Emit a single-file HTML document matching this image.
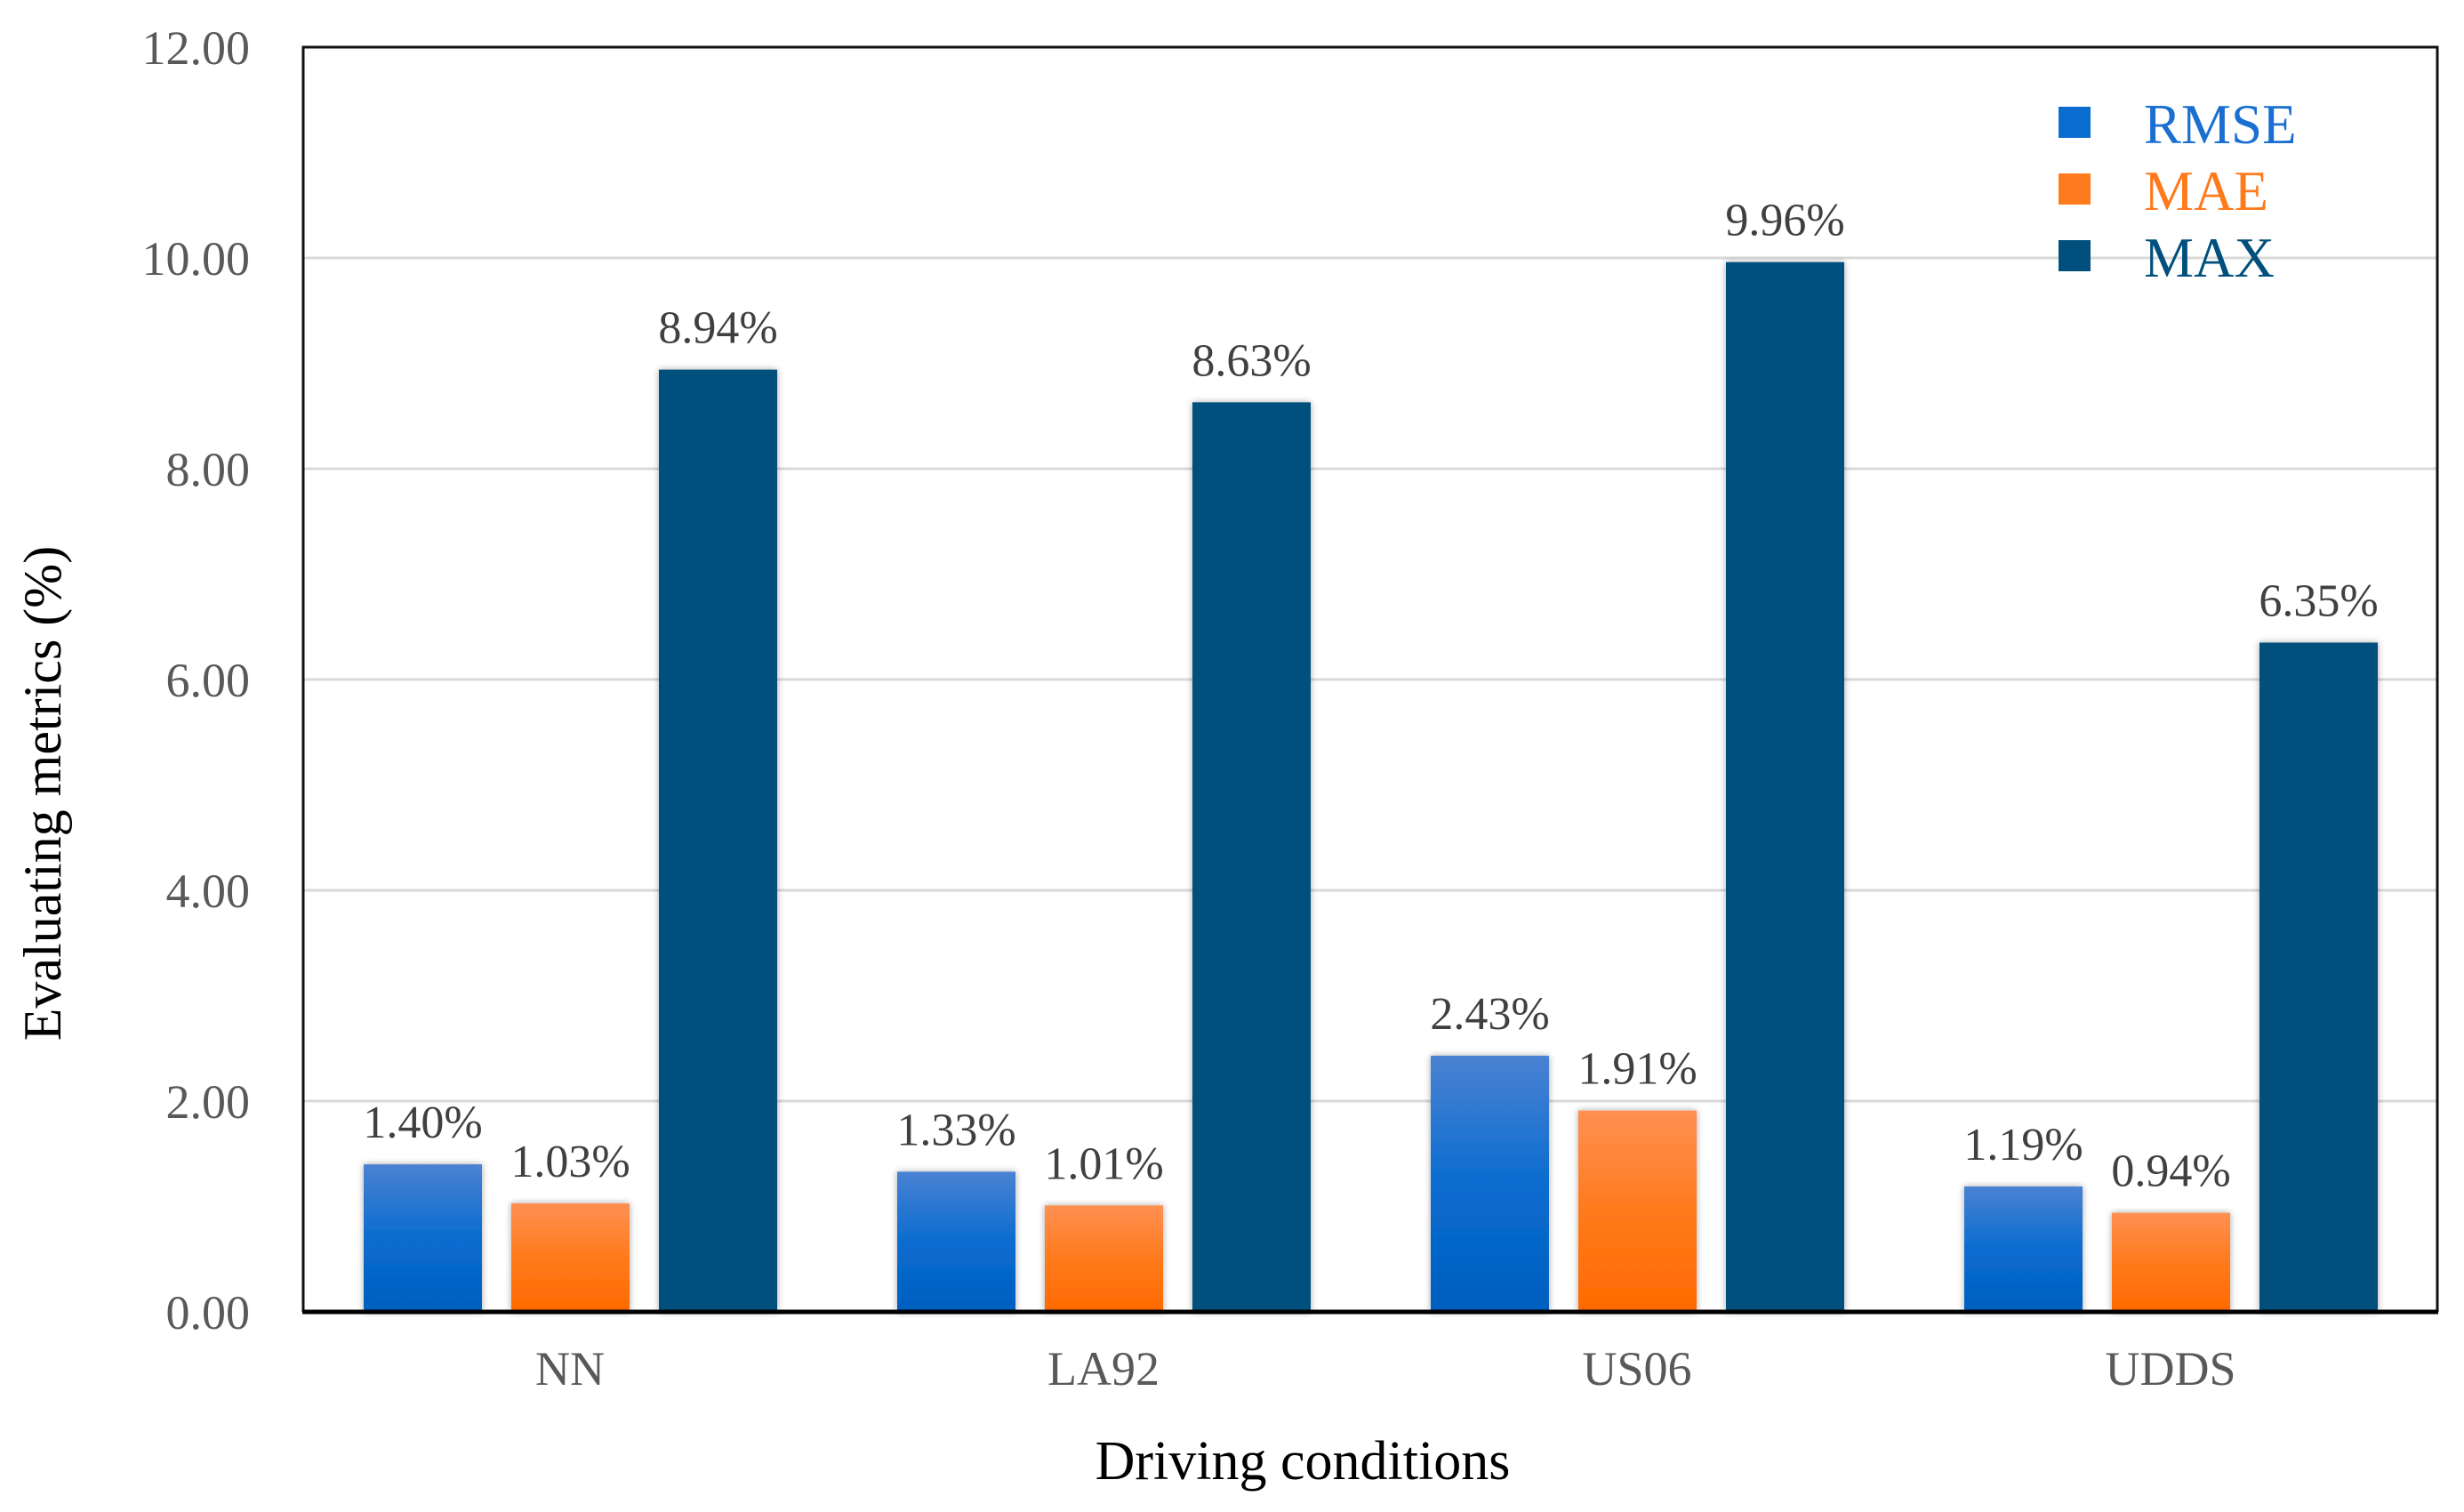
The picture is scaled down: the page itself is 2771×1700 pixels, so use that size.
<!DOCTYPE html>
<html><head><meta charset="utf-8"><style>
html,body{margin:0;padding:0;background:#fff;}
svg{display:block;font-family:"Liberation Serif","Times New Roman",serif;}
</style></head><body>
<svg id="chart" width="2771" height="1700" viewBox="0 0 2771 1700" xmlns="http://www.w3.org/2000/svg">
<defs>
<linearGradient id="gRmse" x1="0" y1="0" x2="0" y2="1"><stop offset="0" stop-color="#4a82d2"/><stop offset="0.5" stop-color="#0a6ccf"/><stop offset="1" stop-color="#005fbf"/></linearGradient>
<linearGradient id="gMae" x1="0" y1="0" x2="0" y2="1"><stop offset="0" stop-color="#ff9052"/><stop offset="0.5" stop-color="#ff7a1c"/><stop offset="1" stop-color="#ff6a00"/></linearGradient>
<filter id="sh" x="-20%" y="-5%" width="140%" height="110%"><feGaussianBlur in="SourceAlpha" stdDeviation="4"/><feOffset dx="0" dy="0"/><feComponentTransfer><feFuncA type="linear" slope="0.35"/></feComponentTransfer><feMerge><feMergeNode/><feMergeNode in="SourceGraphic"/></feMerge></filter>
</defs>
<g id="grid"></g>
<g id="bars"></g>
<g id="labels"></g>
<g id="axes"></g>
<text x="1465" y="1663" font-size="62" text-anchor="middle" fill="#000">Driving conditions</text>
<text transform="translate(68,892) rotate(-90)" font-size="60" text-anchor="middle" fill="#000">Evaluating metrics (%)</text>
<g>
<rect x="2315" y="120" width="36" height="35" fill="#0a6ccf"/>
<text x="2411" y="161" font-size="63" fill="#1a6fd0">RMSE</text>
<rect x="2315" y="195" width="36" height="35" fill="#ff7a1c"/>
<text x="2411" y="236" font-size="63" fill="#ff7a1c">MAE</text>
<rect x="2315" y="270" width="36" height="35" fill="#004f7c"/>
<text x="2411" y="311" font-size="63" fill="#004f7c">MAX</text>
</g>
</svg>
<script>
const categories = ["NN", "LA92", "US06", "UDDS"];
const rmseValues = [1.40, 1.33, 2.43, 1.19];
const maeValues = [1.03, 1.01, 1.91, 0.94];
const maxValues = [8.94, 8.63, 9.96, 6.35];
const yTicks = [0, 2, 4, 6, 8, 10, 12];
const tickLabels = ["0.00", "2.00", "4.00", "6.00", "8.00", "10.00", "12.00"];

const NS = "http://www.w3.org/2000/svg";
const L = 341, R = 2741, T = 53, B = 1475, yMax = 12;
function yScale(v){ return B - (v / yMax) * (B - T); }
function xGroup(i){ return L + (R - L) / categories.length * i; }
function mk(tag, attrs, parent){ const e = document.createElementNS(NS, tag); for (const k in attrs) e.setAttribute(k, attrs[k]); parent.appendChild(e); return e; }

const grid = document.getElementById('grid');
const axes = document.getElementById('axes');
yTicks.forEach((t, i) => {
  const y = yScale(t);
  if (t > 0 && t < yMax) {
    const gl = mk('line', {x1: L, x2: R, y1: y, y2: y, stroke: '#d9d9d9', 'stroke-width': 3}, grid);
    
    
  }
  const tl = mk('text', {x: 281, y: y + 19, 'font-size': 54, 'text-anchor': 'end', fill: '#595959'}, axes);
  tl.textContent = tickLabels[i];
  
  
});

const bars = document.getElementById('bars');
const labels = document.getElementById('labels');
const series = [
  {vals: rmseValues, fill: 'url(#gRmse)', name: 'rmse'},
  {vals: maeValues, fill: 'url(#gMae)', name: 'mae'},
  {vals: maxValues, fill: '#004f7c', name: 'max'}
];
const bw = 133, pitch = 166, off = 68;
categories.forEach((c, i) => {
  const g0 = xGroup(i);
  series.forEach((s, j) => {
    const x = g0 + off + j * pitch;
    const y = yScale(s.vals[i]);
    const r = mk('rect', {x: x, y: y, width: bw, height: B - y, fill: s.fill, filter: 'url(#sh)'}, bars);
    
    
    const t = mk('text', {x: x + bw / 2, y: y - 30, 'font-size': 52, 'text-anchor': 'middle', fill: '#404040'}, labels);
    t.textContent = s.vals[i].toFixed(2) + '%';
    
    
  });
  const cl = mk('text', {x: g0 + (R - L) / categories.length / 2, y: 1557, 'font-size': 54, 'text-anchor': 'middle', fill: '#595959'}, axes);
  cl.textContent = c;
  
  
});

const frame = mk('path', {d: `M${L},${B} L${L},${T} L${R},${T} L${R},${B}`, fill: 'none', stroke: '#111', 'stroke-width': 3}, axes);


const xa = mk('line', {x1: L - 1, x2: R + 1, y1: B, y2: B, stroke: '#000', 'stroke-width': 5}, axes);


</script>
</body></html>
